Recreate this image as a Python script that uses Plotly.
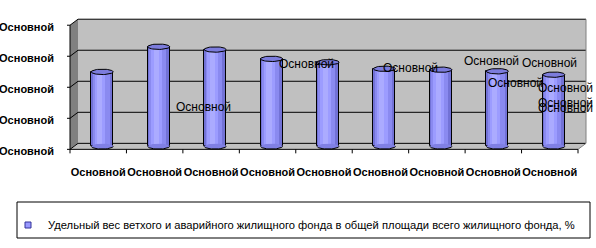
import numpy as np
import plotly.graph_objects as go

# ---------------- data ----------------
categories = ["Основной"] * 9
values = [2.40, 3.21, 3.12, 2.82, 2.71, 2.50, 2.47, 2.42, 2.31]
y_tick_vals = [0, 1, 2, 3, 4]
y_tick_labels = ["Основной"] * 5
series_name = ("Удельный вес ветхого и аварийного жилищного фонда "
               "в общей площади всего жилищного фонда, %")
data_label_text = "Основной"

# positions of the (misplaced) data labels, in axis units
label_pos = [(1.786, 1.27), (3.611, 2.65), (5.454, 2.52), (6.89, 2.75),
             (7.917, 2.69), (7.314, 2.04), (8.2, 1.88), (8.2, 1.40), (8.2, 1.24)]

# ---------------- geometry ----------------
W, H = 596, 248
L, R, T, B = 74, 14, 16, 97
PW, PH = W - L - R, H - T - B
YR = [-0.15, 4.2]
FONT = "Liberation Sans, Arial, sans-serif"


def xp(px):
    return (px - L) / PW


def yp(py):
    return (T + PH - py) / PH


def ypix(v):
    return T + (YR[1] - v) / (YR[1] - YR[0]) * PH


DX, DY = 4, 3  # half depth offset
shapes = []


def line(x0, y0, x1, y1, color="black", w=1):
    shapes.append(dict(type="line", xref="paper", yref="paper",
                       x0=xp(x0), y0=yp(y0), x1=xp(x1), y1=yp(y1),
                       line=dict(color=color, width=w), layer="below"))


def poly(pts, fill):
    path = "M " + " L ".join(f"{xp(a)},{yp(b)}" for a, b in pts) + " Z"
    shapes.append(dict(type="path", xref="paper", yref="paper", path=path,
                       fillcolor=fill, line=dict(width=0), layer="below"))


xl_back, xr_back = L + DX, L + PW + DX
xl_front, xr_front = L - DX, L + PW - DX
y0b, y4b = ypix(0) - DY, ypix(4) - DY
y0f, y4f = ypix(0) + DY, ypix(4) + DY

# back wall
poly([(xl_back, y4b), (xr_back, y4b), (xr_back, y0b), (xl_back, y0b)], "#C0C0C0")
# side wall
poly([(xl_front, y4f), (xl_back, y4b), (xl_back, y0b), (xl_front, y0f)], "#808080")
# floor
poly([(xl_front, y0f), (xr_front, y0f), (xr_back, y0b), (xl_back, y0b)], "#C0C0C0")
# gridlines
for k in y_tick_vals:
    line(xl_back, ypix(k) - DY, xr_back, ypix(k) - DY)
    line(xl_front, ypix(k) + DY, xl_back, ypix(k) - DY)
    line(xl_front - 3, ypix(k) + DY, xl_front, ypix(k) + DY)
# right edges
line(xr_back, y4b, xr_back, y0b, "#808080")
line(xr_front, y0f, xr_back, y0b, "#808080")
# axes
line(xl_front, y4f, xl_front, y0f)
line(xl_front, y0f, xr_front, y0f)
for j in range(len(categories) + 1):
    xx = xl_front + j * PW / len(categories)
    line(xx, y0f, xx, y0f + 4)

# legend box
shapes.append(dict(type="rect", xref="paper", yref="paper",
                   x0=xp(17), x1=xp(590), y0=yp(202), y1=yp(238),
                   line=dict(color="black", width=1), fillcolor="rgba(0,0,0,0)",
                   layer="below"))

fig = go.Figure()
xs = list(range(len(categories)))

# cylinder bodies (layers of shading)
bw = 0.39
layers = [(bw, 0.0, "#7272D6", 1), (0.30, -0.02, "#8A8AF0", 0),
          (0.19, -0.04, "#9C9CFF", 0), (0.09, -0.045, "#ABABFF", 0)]
for w, sh, col, lw in layers:
    fig.add_trace(go.Bar(x=xs, y=values, width=w, offset=-w / 2 + sh,
                         marker=dict(color=col, line=dict(color="black", width=lw)),
                         showlegend=False, hoverinfo="skip"))

# ellipses
a, b = bw / 2, 0.087
t = np.linspace(0, 2 * np.pi, 48)
tl = np.linspace(np.pi, 2 * np.pi, 24)
top_x, top_y, bf_x, bf_y, bl_x, bl_y = [], [], [], [], [], []
for i, v in zip(xs, values):
    top_x += list(i + a * np.cos(t)) + [None]
    top_y += list(v + b * np.sin(t)) + [None]
    bf_x += list(i + a * np.cos(t)) + [None]
    bf_y += list(0 + b * np.sin(t)) + [None]
    bl_x += list(i + a * np.cos(tl)) + [None]
    bl_y += list(0 + b * np.sin(tl)) + [None]

fig.add_trace(go.Scatter(x=bf_x, y=bf_y, mode="lines", fill="toself",
                         fillcolor="#8080E4", line=dict(width=0),
                         showlegend=False, hoverinfo="skip"))
fig.add_trace(go.Scatter(x=bl_x, y=bl_y, mode="lines",
                         line=dict(color="black", width=1),
                         showlegend=False, hoverinfo="skip"))
fig.add_trace(go.Scatter(x=top_x, y=top_y, mode="lines", fill="toself",
                         fillcolor="#7C7CDC", line=dict(color="black", width=1),
                         showlegend=False, hoverinfo="skip"))

# legend entry
fig.add_trace(go.Scatter(x=[None], y=[None], mode="markers", name=series_name,
                         marker=dict(symbol="square", size=6, color="#9999FF",
                                     line=dict(color="#333399", width=1))))

annotations = [dict(x=px_, y=py_, xref="x", yref="y", text=data_label_text,
                    showarrow=False, font=dict(family=FONT, size=12, color="black"))
               for px_, py_ in label_pos]

fig.update_layout(
    width=W, height=H,
    margin=dict(l=L, r=R, t=T, b=B, pad=0, autoexpand=False),
    paper_bgcolor="white", plot_bgcolor="rgba(0,0,0,0)",
    barmode="overlay", bargap=0,
    shapes=shapes, annotations=annotations,
    font=dict(family=FONT, size=11, color="black"),
    xaxis=dict(range=[-0.5, len(categories) - 0.5], tickvals=xs, ticktext=categories,
               showgrid=False, zeroline=False, showline=False, ticks="",
               tickangle=0, automargin=False,
               tickfont=dict(family=FONT, size=11, color="black", weight="bold"),
               ticklabelshift=-4, ticklabelstandoff=13, fixedrange=True),
    yaxis=dict(range=YR, tickvals=y_tick_vals, ticktext=y_tick_labels,
               showgrid=False, zeroline=False, showline=False, ticks="",
               automargin=False,
               tickfont=dict(family=FONT, size=11, color="black", weight="bold"),
               ticklabelshift=5, ticklabelstandoff=19, fixedrange=True),
    showlegend=True,
    legend=dict(x=xp(8), xanchor="left", y=yp(225), yanchor="middle",
                bgcolor="rgba(0,0,0,0)", borderwidth=0,
                font=dict(family=FONT, size=11.2, color="black"),
                itemsizing="trace"),
)

fig.write_html("out.html", config={"displayModeBar": False},
               post_script="document.body.style.margin='0';"
                           "document.body.style.overflow='hidden';")
